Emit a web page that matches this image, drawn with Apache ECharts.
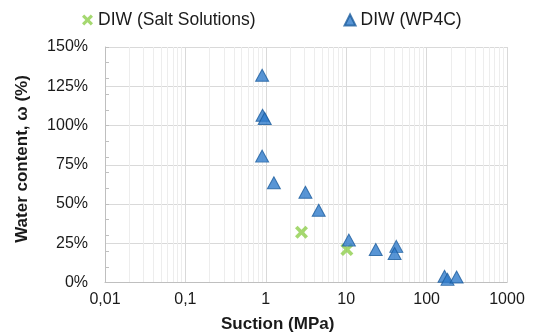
<!DOCTYPE html>
<html><head><meta charset="utf-8">
<script src="https://cdn.jsdelivr.net/npm/echarts@6/dist/echarts.min.js"></script>
<style>html,body{margin:0;padding:0;background:#fff}#c{width:536px;height:335px}</style>
</head><body><div id="c"></div>
<script>
// Data
const saltName = 'DIW (Salt Solutions)';
const wp4cName = 'DIW (WP4C)';
const saltSuction = [2.78, 10.2];
const saltWater = [32, 21];
const wp4cSuction = [0.90, 0.91, 0.97, 0.90, 1.26, 3.11, 4.55, 10.8, 23.3, 42, 40, 167, 182, 236];
const wp4cWater = [132, 106.5, 104.5, 80.5, 63.5, 57.5, 46, 27, 21, 23, 18.5, 4, 2, 3.5];
const xTickValues = [0.01, 0.1, 1, 10, 100, 1000];
const yTickValues = [0, 25, 50, 75, 100, 125, 150];
const xTitle = 'Suction (MPa)';
const yTitle = 'Water content, ω (%)';

// minor log gridlines (2..9 of each decade)
const minorGrid = [];
for (let d = 0; d < xTickValues.length - 1; d++) {
  for (let k = 2; k <= 9; k++) minorGrid.push(Number((k * xTickValues[d]).toPrecision(6)));
}

const FONT = "'Liberation Sans', Arial, sans-serif";
const TXT = '#1a1a1a';
const crossPath = 'path://M0,2 L2,0 L5,3 L8,0 L10,2 L7,5 L10,8 L8,10 L5,7 L2,10 L0,8 L3,5 Z';

const chart = echarts.init(document.getElementById('c'), null, {renderer: 'canvas'});
chart.setOption({
  animation: false,
  backgroundColor: '#fff',
  textStyle: {fontFamily: FONT},
  grid: {left: 105, right: 29, top: 47, bottom: 52.5, containLabel: false},
  legend: {
    data: [saltName, wp4cName],
    left: 77, top: 6, itemGap: 88, itemWidth: 11, itemHeight: 11,
    textStyle: {fontFamily: FONT, fontSize: 17.5, color: TXT}
  },
  title: {
    text: xTitle, left: 216, top: 311,
    textStyle: {fontFamily: FONT, fontSize: 17, fontWeight: 'bold', color: TXT}
  },
  graphic: [{
    type: 'text', x: 22, y: 159, rotation: Math.PI / 2,
    style: {text: yTitle, fontFamily: FONT, fontSize: 17, fontWeight: 'bold', fill: TXT,
            align: 'center', verticalAlign: 'middle'}
  }],
  xAxis: {
    type: 'log', logBase: 10,
    min: xTickValues[0], max: xTickValues[xTickValues.length - 1],
    axisLine: {show: true, lineStyle: {color: '#bfbfbf', width: 1}},
    axisTick: {show: false},
    axisLabel: {
      fontFamily: FONT, fontSize: 16, color: TXT, margin: 9,
      formatter: v => String(Number(v.toPrecision(6))).replace('.', ',')
    },
    splitLine: {show: true, lineStyle: {color: '#d9d9d9', width: 1}}
  },
  yAxis: [{
    type: 'value', min: yTickValues[0], max: yTickValues[yTickValues.length - 1],
    interval: yTickValues[1] - yTickValues[0],
    axisLine: {show: true, lineStyle: {color: '#bfbfbf', width: 1}},
    axisTick: {show: false},
    axisLabel: {fontFamily: FONT, fontSize: 16, color: TXT, margin: 17, formatter: v => v + '%'},
    splitLine: {show: true, lineStyle: {color: '#d9d9d9', width: 1}}
  }, {
    type: 'value', position: 'left', min: 0, max: 150, interval: 10,
    axisLine: {show: false},
    axisTick: {show: true, inside: true, length: 4, lineStyle: {color: '#bfbfbf'}},
    axisLabel: {show: false},
    splitLine: {show: false}
  }],
  series: [{
    type: 'scatter', data: [], silent: true, z: 0,
    markLine: {
      silent: true, symbol: 'none', label: {show: false}, animation: false, z: 0,
      lineStyle: {color: '#ededed', width: 1, type: 'solid'},
      emphasis: {disabled: true},
      data: minorGrid.map(v => ({xAxis: v}))
    }
  }, {
    name: saltName, type: 'scatter', z: 3,
    symbol: crossPath, symbolSize: 13,
    itemStyle: {color: '#8fce4c'},
    data: saltSuction.map((s, i) => [s, saltWater[i]])
  }, {
    name: wp4cName, type: 'scatter', z: 4,
    symbol: 'triangle', symbolSize: [13, 12],
    itemStyle: {color: '#2e7acb', borderColor: '#1c5c9e', borderWidth: 1},
    data: wp4cSuction.map((s, i) => [s, wp4cWater[i]])
  }]
});
</script>
</body></html>
